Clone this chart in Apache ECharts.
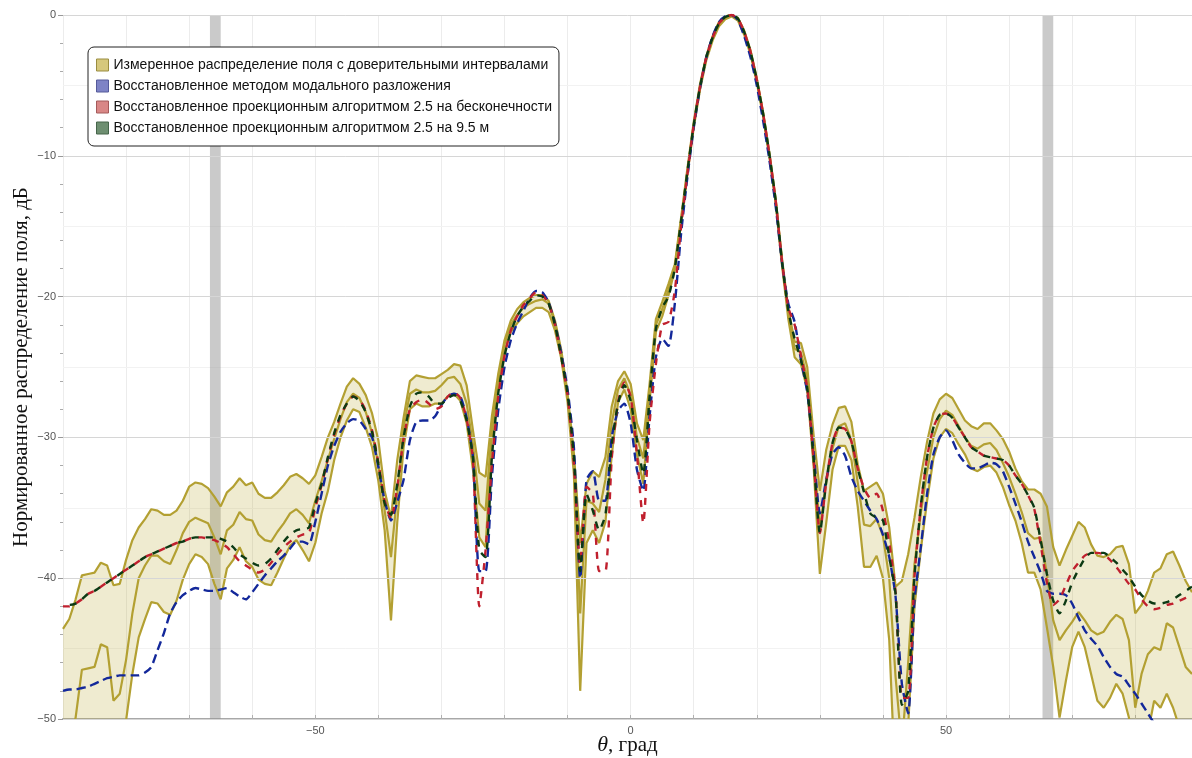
<!DOCTYPE html>
<html style="height: 100%">
<head>
<meta charset="utf-8">
<script src="https://cdn.jsdelivr.net/npm/echarts@6/dist/echarts.min.js"></script>
</head>
<body style="height: 100%; margin: 0; background: #fff">
<div id="chart" style="width: 1192px; height: 758px"></div>
<script>
// углы, град
var theta = [
  -90, -89, -88, -87, -86, -85, -84, -83, -82, -81,
  -80, -79, -78, -77, -76, -75, -74, -73, -72, -71,
  -70, -69, -68, -67, -66, -65, -64, -63, -62, -61,
  -60, -59, -58, -57, -56, -55, -54, -53, -52, -51,
  -50, -49, -48, -47, -46, -45, -44, -43, -42, -41,
  -40, -39, -38, -37, -36, -35, -34, -33, -32, -31,
  -30, -29, -28, -27, -26, -25, -24, -23, -22, -21,
  -20, -19, -18, -17, -16, -15, -14, -13, -12, -11,
  -10, -9, -8, -7, -6, -5, -4, -3, -2, -1,
  0, 1, 2, 3, 4, 5, 6, 7, 8, 9,
  10, 11, 12, 13, 14, 15, 16, 17, 18, 19,
  20, 21, 22, 23, 24, 25, 26, 27, 28, 29,
  30, 31, 32, 33, 34, 35, 36, 37, 38, 39,
  40, 41, 42, 43, 44, 45, 46, 47, 48, 49,
  50, 51, 52, 53, 54, 55, 56, 57, 58, 59,
  60, 61, 62, 63, 64, 65, 66, 67, 68, 69,
  70, 71, 72, 73, 74, 75, 76, 77, 78, 79,
  80, 81, 82, 83, 84, 85, 86, 87, 88, 89
];

// измерения: верхняя граница, среднее, нижняя граница (дБ)
var measUpper = [
  -43.6, -42.9, -41.5, -39.8, -39.7, -39.6, -38.9, -39.1, -40.5, -40.4,
  -38.7, -37.3, -36.4, -35.8, -35.1, -35.2, -35.5, -35.5, -35.2, -34.5,
  -33.5, -33.2, -33.3, -33.6, -34.2, -34.9, -33.9, -33.5, -32.9, -33.4,
  -33.2, -34.0, -34.3, -34.3, -33.9, -33.4, -32.8, -32.6, -32.9, -33.3,
  -32.7, -31.4, -30.0, -28.9, -27.6, -26.4, -25.8, -26.2, -27.0, -28.3,
  -30.2, -33.8, -35.7, -31.6, -28.6, -26.0, -25.6, -25.7, -25.8, -25.8,
  -25.5, -25.2, -24.8, -24.9, -26.3, -29.5, -32.5, -32.8, -28.5, -25.5,
  -23.1, -21.7, -20.9, -20.4, -20.1, -19.9, -19.9, -20.3, -21.7, -23.8,
  -26.9, -31.1, -37.5, -33.3, -32.4, -32.8, -31.4, -27.8, -26.0, -25.3,
  -26.2, -29.0, -30.2, -26.2, -21.6, -20.4, -19.1, -17.7, -14.4, -10.9,
  -7.6, -4.9, -2.9, -1.5, -0.5, -0.1, 0, -0.2, -1.1, -2.5,
  -4.5, -6.9, -9.8, -13.1, -17.3, -20.9, -23.2, -23.3, -25.0, -29.8,
  -33.8, -30.9, -29.1, -27.9, -27.8, -28.9, -31.9, -33.8, -33.5, -33.2,
  -34.0, -36.4, -40.6, -40.2, -38.3, -35.7, -32.8, -30.3, -28.3, -27.3,
  -26.9, -27.2, -28.0, -28.8, -29.2, -29.4, -29.0, -29.0, -29.5, -30.1,
  -31.0, -32.2, -33.1, -33.7, -33.7, -34.0, -34.9, -37.8, -39.1, -38.0,
  -37.0, -36.0, -36.4, -37.6, -38.4, -38.5, -38.3, -37.8, -37.7, -39.0,
  -42.5, -41.9, -40.9, -39.6, -39.3, -38.3, -38.1, -39.1, -40.2, -41.0
];
var measMid = [
  -52.0, -51.5, -49.9, -46.5, -46.4, -46.3, -44.7, -44.9, -48.7, -48.2,
  -45.8, -42.5, -40.0, -39.1, -38.4, -38.4, -38.8, -39.0, -38.0, -36.8,
  -36.0, -35.7, -35.9, -36.1, -37.1, -38.3, -36.6, -36.2, -35.3, -35.8,
  -35.9, -36.9, -37.3, -37.4, -36.7, -36.1, -35.4, -35.1, -35.5, -36.1,
  -34.5, -33.1, -31.6, -30.1, -28.7, -27.5, -26.9, -27.2, -28.2, -29.7,
  -31.9, -35.2, -38.5, -34.0, -29.3, -26.9, -26.6, -26.8, -26.8, -26.7,
  -26.3, -25.8, -25.7, -26.2, -27.6, -30.5, -34.7, -35.2, -29.3, -25.9,
  -23.4, -22.0, -21.3, -20.8, -20.5, -20.3, -20.2, -20.5, -21.9, -24.0,
  -27.1, -31.9, -42.5, -34.5, -34.7, -35.3, -33.0, -29.0, -26.6, -25.8,
  -27.0, -30.0, -31.5, -26.8, -22.0, -20.9, -19.5, -17.9, -14.6, -11.1,
  -7.8, -5.1, -3.0, -1.6, -0.6, -0.15, 0, -0.25, -1.2, -2.6,
  -4.6, -7.0, -9.9, -13.2, -17.5, -21.2, -23.7, -24.0, -25.8, -31.0,
  -36.5, -33.2, -30.8, -29.2, -29.0, -30.2, -33.2, -36.2, -36.3, -35.8,
  -37.0, -40.0, -47.0, -52.0, -46.0, -39.0, -35.4, -32.4, -30.0, -28.7,
  -28.1, -28.4, -29.2, -30.0, -30.6, -30.8, -30.5, -30.4, -30.9, -31.8,
  -32.8, -34.0, -35.3, -36.8, -37.2, -37.1, -39.7, -43.0, -44.4, -43.7,
  -43.1, -42.4, -43.0, -43.7, -44.0, -43.8, -43.1, -42.6, -42.9, -44.4,
  -49.2, -46.8, -45.4, -44.9, -45.1, -43.2, -43.5, -44.9, -46.3, -46.8
];
var measLower = [
  -56, -56, -56, -56, -56, -56, -56, -56, -56, -54,
  -50.1, -46.8, -44.2, -42.9, -41.7, -41.8, -42.4, -42.6, -41.6, -40.1,
  -39.0, -38.3, -38.5, -39.0, -40.4, -41.5, -39.3, -38.7, -37.8, -38.8,
  -39.2, -40.1, -40.4, -40.5, -39.6, -38.6, -37.7, -37.3, -38.0, -38.8,
  -37.5, -35.4, -33.8, -31.6, -30.0, -28.8, -28.0, -28.2, -29.3, -30.7,
  -33.1, -36.6, -43.0, -36.0, -30.7, -28.0, -27.6, -27.8, -27.8, -27.6,
  -27.6, -27.1, -26.9, -27.4, -29.0, -32.3, -37.1, -37.8, -30.0, -26.4,
  -23.9, -22.5, -21.9, -21.4, -21.1, -20.8, -20.8, -21.1, -22.4, -24.4,
  -27.5, -32.6, -48.0, -37.5, -36.6, -37.5, -36.0, -31.3, -27.5, -26.6,
  -28.0, -31.2, -33.3, -27.5, -22.5, -21.4, -19.9, -18.1, -14.8, -11.3,
  -8.0, -5.3, -3.2, -1.8, -0.8, -0.3, -0.1, -0.4, -1.4, -2.8,
  -4.8, -7.2, -10.1, -13.4, -17.8, -21.6, -24.3, -24.8, -26.6, -32.0,
  -39.7, -36.1, -32.3, -30.6, -30.6, -31.6, -34.9, -39.2, -39.2, -38.4,
  -40.0, -44.4, -55.0, -58.0, -50.5, -42.0, -38.0, -34.5, -31.5, -30.0,
  -29.4, -29.7, -30.5, -31.2, -32.2, -32.4, -32.1, -32.0, -32.5, -33.5,
  -34.8, -35.9, -37.5, -39.6, -39.6, -40.8, -43.5, -46.3, -49.9, -47.3,
  -44.9, -43.8, -44.9, -46.8, -48.7, -49.2, -48.5, -47.5, -48.2, -49.9,
  -53.0, -54.0, -51.0, -48.7, -49.2, -48.2, -49.2, -50.6, -52.0, -53.0
];

// восстановленные распределения (дБ)
var modal = [
  -48.0, -47.9, -47.9, -47.8, -47.7, -47.5, -47.3, -47.1, -47.0, -46.9,
  -46.9, -46.9, -46.9, -46.7, -46.3, -45.1, -43.9, -42.5, -41.7, -41.2,
  -40.9, -40.7, -40.8, -40.9, -40.9, -40.8, -40.7, -41.0, -41.3, -41.5,
  -41.0, -40.4, -39.8, -39.3, -38.8, -38.4, -37.9, -37.4, -37.4, -37.6,
  -36.0, -34.0, -32.0, -30.6, -29.6, -29.0, -28.7, -28.8, -29.4, -30.0,
  -32.1, -34.5, -35.9, -34.6, -33.0, -30.2, -28.9, -28.8, -28.8, -28.5,
  -27.7, -27.1, -26.9, -27.1, -28.6, -31.4, -39.5, -39.5, -32.8, -28.1,
  -25.0, -23.1, -21.9, -21.0, -20.1, -19.6, -19.7, -20.4, -21.9, -24.0,
  -26.6, -30.7, -40.0, -33.0, -32.4, -34.5, -34.5, -30.0, -28.1, -27.6,
  -29.0, -32.3, -33.8, -28.5, -24.3, -23.0, -23.5, -20.5, -15.5, -11.5,
  -8.0, -5.2, -3.0, -1.5, -0.5, -0.1, 0, -0.35, -1.5, -3.0,
  -5.0, -7.5, -10.3, -13.6, -17.6, -20.5, -21.8, -24.5, -26.8, -31.0,
  -35.4, -33.0, -31.2, -30.7, -31.3, -32.8, -33.8, -34.5, -35.2, -35.8,
  -36.9, -38.5, -41.3, -47.5, -49.6, -41.6, -37.8, -34.0, -31.2, -30.0,
  -29.5, -30.2, -31.2, -31.8, -32.2, -32.2, -32.0, -31.8, -31.9, -32.4,
  -33.5, -34.7, -36.0, -37.4, -38.5, -39.6, -40.9, -41.1, -41.1, -41.2,
  -41.8, -42.8, -43.7, -44.3, -44.8, -45.6, -46.3, -46.8, -47.0, -47.6,
  -48.2, -48.9, -49.6, -50.3, -51.0, -52.0, -53.0, -54.0, -55.0, -56.0
];
var projInf = [
  -42.0, -42.0, -41.8, -41.5, -41.1, -40.9, -40.6, -40.3, -40.0, -39.7,
  -39.4, -39.1, -38.8, -38.5, -38.3, -38.1, -37.9, -37.7, -37.5, -37.4,
  -37.2, -37.1, -37.1, -37.2, -37.3, -37.5, -37.8, -38.3, -38.8, -39.1,
  -39.4, -39.6, -39.4, -38.9, -38.3, -37.8, -37.4, -37.1, -36.9, -36.8,
  -35.0, -33.4, -31.5, -29.8, -28.5, -27.6, -27.1, -27.3, -28.1, -29.5,
  -31.8, -34.5, -35.8, -33.5, -30.1, -28.0, -27.5, -27.3, -27.6, -28.0,
  -27.8, -27.1, -26.8, -27.2, -28.7, -31.6, -42.0, -38.0, -31.9, -27.1,
  -24.2, -22.4, -21.4, -20.6, -20.1, -19.7, -19.9, -20.5, -22.0, -24.3,
  -27.0, -31.9, -39.0, -33.5, -34.0, -39.5, -39.5, -31.5, -27.5, -26.1,
  -27.1, -31.2, -36.1, -29.0, -24.8, -22.0, -21.8, -19.6, -15.0, -11.3,
  -7.8, -5.1, -3.0, -1.6, -0.6, -0.15, 0, -0.25, -1.2, -2.6,
  -4.6, -7.0, -9.9, -13.2, -17.5, -20.8, -22.0, -24.2, -26.5, -31.5,
  -36.8, -33.2, -30.4, -29.3, -29.4, -30.3, -32.2, -33.6, -34.3, -34.0,
  -35.2, -37.5, -41.0, -48.5, -48.5, -39.9, -34.9, -31.4, -29.3, -28.4,
  -28.3, -28.6, -29.3, -30.0, -30.7, -31.0, -31.3, -31.4, -31.5, -31.6,
  -32.0, -32.7, -33.3, -34.1, -35.1, -37.6, -40.3, -41.9, -41.5, -40.5,
  -39.5, -38.9, -38.4, -38.2, -38.2, -38.3, -38.7, -39.2, -39.8, -40.4,
  -40.8, -41.5, -42.0, -42.2, -42.1, -41.9, -41.8, -41.6, -41.4, -41.2
];
var proj95 = [
  -41.9, -41.9, -41.8, -41.5, -41.1, -40.9, -40.6, -40.3, -40.0, -39.7,
  -39.4, -39.1, -38.8, -38.5, -38.3, -38.1, -37.9, -37.7, -37.5, -37.4,
  -37.2, -37.1, -37.1, -37.1, -37.1, -37.2, -37.4, -37.8, -38.3, -38.6,
  -38.9, -39.1, -39.0, -38.6, -38.0, -37.4, -36.9, -36.6, -36.5, -36.4,
  -34.7, -33.3, -31.4, -29.7, -28.4, -27.6, -27.1, -27.4, -28.2, -29.6,
  -31.9, -34.7, -35.5, -33.3, -30.0, -27.8, -26.9, -26.8, -27.1, -27.6,
  -27.6, -27.2, -27.0, -27.4, -28.8, -31.4, -38.0, -38.5, -31.4, -26.9,
  -24.2, -22.5, -21.4, -20.7, -20.3, -19.9, -20.0, -20.5, -22.0, -24.3,
  -26.9, -31.4, -39.5, -34.0, -35.2, -36.6, -35.5, -30.5, -27.6, -26.3,
  -27.4, -30.2, -32.6, -27.1, -22.3, -20.8, -20.0, -18.0, -14.6, -11.1,
  -7.8, -5.1, -3.0, -1.6, -0.6, -0.15, 0, -0.25, -1.2, -2.6,
  -4.6, -7.0, -9.9, -13.2, -17.5, -21.0, -23.0, -24.5, -26.5, -31.5,
  -36.8, -33.2, -30.4, -29.3, -29.4, -30.3, -32.2, -33.9, -35.4, -35.7,
  -35.9, -38.5, -41.1, -49.0, -48.0, -39.9, -34.9, -31.4, -29.3, -28.4,
  -28.3, -28.6, -29.3, -30.0, -30.7, -31.0, -31.3, -31.4, -31.5, -31.6,
  -32.0, -32.7, -33.3, -34.1, -35.0, -37.3, -39.7, -41.6, -42.5, -41.6,
  -40.3, -39.4, -38.6, -38.2, -38.2, -38.2, -38.5, -38.9, -39.4, -39.9,
  -40.6, -41.2, -41.6, -41.8, -41.8, -41.7, -41.5, -41.2, -40.9, -40.6
];

// серые полосы (град)
var grayBands = [[-66.7, -65.0], [65.3, 67.0]];

var legendNames = [
  'Измеренное распределение поля с доверительными интервалами',
  'Восстановленное методом модального разложения',
  'Восстановленное проекционным алгоритмом 2.5 на бесконечности',
  'Восстановленное проекционным алгоритмом 2.5 на 9.5 м'
];

function pairs(arr) {
  return theta.map(function (t, i) { return [t, arr[i]]; });
}

function minus(v) {
  return v < 0 ? '\u2212' + Math.abs(v) : String(v);
}

// доверительный интервал: многоугольник верх -> низ
function renderBand(params, api) {
  var pts = [];
  for (var i = 0; i < theta.length; i++) {
    pts.push(api.coord([theta[i], measUpper[i]]));
  }
  for (var j = theta.length - 1; j >= 0; j--) {
    pts.push(api.coord([theta[j], measLower[j]]));
  }
  return {
    type: 'polygon',
    shape: { points: pts },
    style: { fill: 'rgba(190,170,60,0.24)' }
  };
}

var olive = '#b3a032';
var chart = echarts.init(document.getElementById('chart'));

chart.setOption({
  animation: false,
  backgroundColor: '#fff',
  grid: { left: 63, top: 15, width: 1129, height: 704, outerBoundsMode: 'none', containLabel: false },
  legend: {
    left: 88, top: 47,
    orient: 'vertical',
    backgroundColor: '#fff',
    borderColor: '#222', borderWidth: 1, borderRadius: 6,
    padding: [10, 7, 10, 8],
    itemWidth: 12, itemHeight: 12, itemGap: 5,
    textStyle: { fontFamily: 'Liberation Sans', fontSize: 14, color: '#111', lineHeight: 16 },
    data: [
      { name: legendNames[0], icon: 'rect', itemStyle: { color: '#d6c87c', borderColor: '#9a8d40', borderWidth: 1 } },
      { name: legendNames[1], icon: 'rect', itemStyle: { color: '#7e83c6', borderColor: '#555a9a', borderWidth: 1 } },
      { name: legendNames[2], icon: 'rect', itemStyle: { color: '#d98786', borderColor: '#a45a5a', borderWidth: 1 } },
      { name: legendNames[3], icon: 'rect', itemStyle: { color: '#6e8f71', borderColor: '#46654a', borderWidth: 1 } }
    ]
  },
  xAxis: {
    type: 'value', min: -90, max: 89, interval: 10,
    name: '{t|θ}, град',
    nameLocation: 'middle', nameGap: 15, nameMoveOverlap: false,
    nameTextStyle: {
      fontFamily: 'Liberation Serif', fontSize: 21, color: '#111',
      rich: { t: { fontFamily: 'Liberation Serif', fontStyle: 'italic', fontSize: 22, color: '#111' } }
    },
    axisLine: { onZero: false, lineStyle: { color: '#a8a8a8', width: 2 } },
    axisTick: { inside: true, length: 4, lineStyle: { color: '#b0b0b0' } },
    axisLabel: {
      showMinLabel: false, showMaxLabel: false, margin: 6,
      fontFamily: 'Liberation Sans', fontSize: 11, color: '#555',
      formatter: function (v) { return (v === -50 || v === 0 || v === 50) ? minus(v) : ''; }
    },
    splitLine: { show: true, lineStyle: { color: '#ececec' } }
  },
  yAxis: [{
    type: 'value', min: -50, max: 0, interval: 10, z: 3,
    name: 'Нормированное распределение поля, дБ',
    nameLocation: 'middle', nameGap: 31, nameMoveOverlap: false,
    nameTextStyle: { fontFamily: 'Liberation Serif', fontSize: 21, color: '#111' },
    axisLine: { show: false, onZero: false },
    axisTick: { show: true, length: 5, lineStyle: { color: '#999' } },
    minorTick: { show: true, splitNumber: 5, length: 3, lineStyle: { color: '#aaa' } },
    axisLabel: {
      margin: 7, fontFamily: 'Liberation Sans', fontSize: 11, color: '#555',
      formatter: minus
    },
    splitLine: { show: true, lineStyle: { color: '#d6d6d6' } }
  }, {
    type: 'value', min: -50, max: 0, interval: 5, z: 1, position: 'left',
    axisLine: { show: false, onZero: false }, axisTick: { show: false }, axisLabel: { show: false },
    splitLine: { show: true, lineStyle: { color: '#f2f2f2' } }
  }],
  series: [
    {
      name: 'band', type: 'custom', data: [[0, 0]], renderItem: renderBand,
      clip: true, silent: true, z: 1
    },
    {
      name: 'upper', type: 'line', data: pairs(measUpper), symbol: 'none', z: 2,
      lineStyle: { color: olive, width: 2.2 },
      markArea: {
        silent: true,
        itemStyle: { color: 'rgba(150,150,150,0.5)' },
        data: grayBands.map(function (b) { return [{ xAxis: b[0] }, { xAxis: b[1] }]; })
      }
    },
    {
      name: 'lower', type: 'line', data: pairs(measLower), symbol: 'none', z: 2,
      lineStyle: { color: olive, width: 2.2 }
    },
    {
      name: legendNames[0], type: 'line', data: pairs(measMid), symbol: 'none', z: 2,
      itemStyle: { color: '#d6c87c' },
      lineStyle: { color: olive, width: 2.2 }
    },
    {
      name: legendNames[1], type: 'line', data: pairs(modal), symbol: 'none', z: 3,
      smooth: 0.2,
      itemStyle: { color: '#7e83c6' },
      lineStyle: { color: '#13289a', width: 2.4, type: [9, 5] }
    },
    {
      name: legendNames[2], type: 'line', data: pairs(projInf), symbol: 'none', z: 4,
      smooth: 0.2,
      itemStyle: { color: '#d98786' },
      lineStyle: { color: '#c0202e', width: 2.4, type: [7, 7] }
    },
    {
      name: legendNames[3], type: 'line', data: pairs(proj95), symbol: 'none', z: 5,
      smooth: 0.2,
      itemStyle: { color: '#6e8f71' },
      lineStyle: { color: '#0c3a14', width: 2.4, type: [7, 7], dashOffset: 7 }
    }
  ]
});
</script>
</body>
</html>
